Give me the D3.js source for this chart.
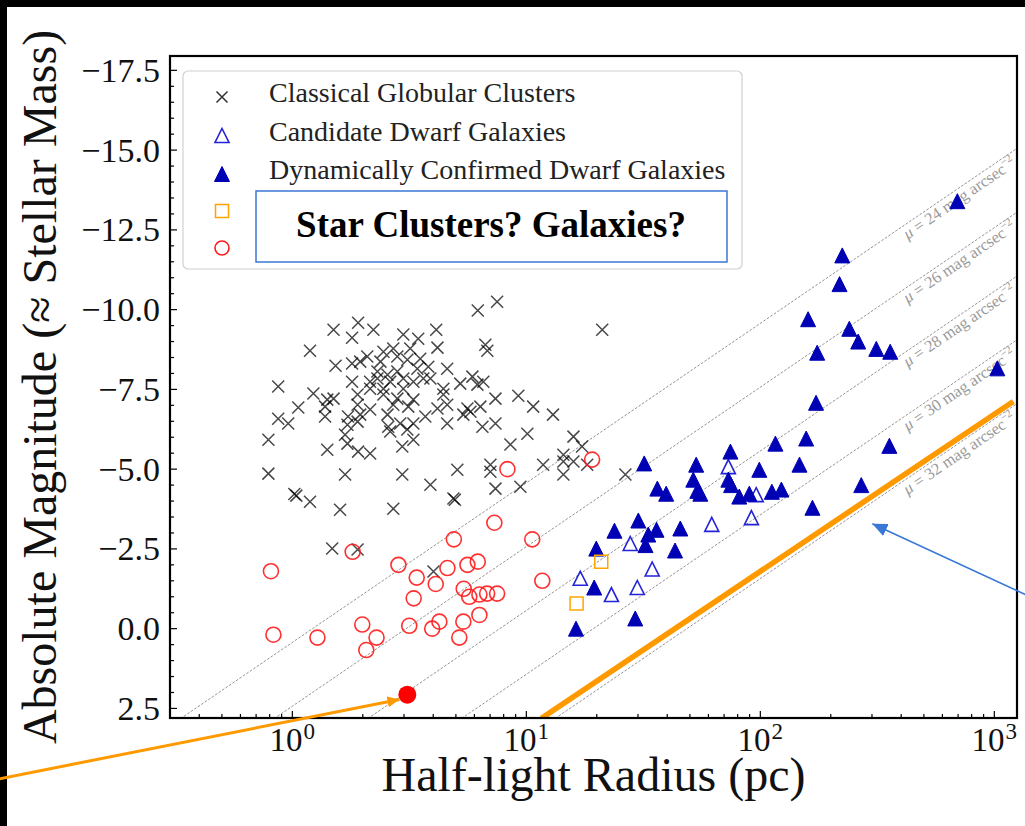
<!DOCTYPE html>
<html>
<head>
<meta charset="utf-8">
<script src="https://cdn.jsdelivr.net/npm/d3@7"></script>
<style>
  body { margin: 0; background: #fff; }
  svg text { font-family: "Liberation Serif", "Times New Roman", serif; }
</style>
</head>
<body>
<svg id="chart" width="1025" height="826"></svg>
<script>
// ---- data: [half-light radius (pc), absolute magnitude] ----
const globularClusters = [
  [7.5,-10.25],[6.2,-9.97],[21.1,-9.37],[1.50,-9.37],[1.91,-9.59],[1.80,-9.12],[2.22,-9.37],[2.98,-9.22],[3.45,-9.09],[4.12,-9.37],
  [1.19,-8.71],[6.68,-8.90],[6.81,-8.71],[4.17,-8.81],[3.52,-8.46],[1.53,-8.24],[1.80,-8.31],[1.95,-8.37],[2.38,-8.37],[2.45,-8.68],
  [2.81,-8.53],[3.10,-8.43],[3.81,-8.21],[4.59,-8.15],[0.87,-7.59],[1.23,-7.37],[1.80,-7.74],[2.15,-7.74],[2.31,-7.84],[2.45,-7.52],
  [2.62,-7.74],[2.98,-7.84],[3.29,-7.74],[3.89,-7.84],[4.42,-7.52],[5.22,-7.68],[5.88,-7.90],[6.18,-7.65],[6.55,-7.74],[1.41,-7.18],
  [1.50,-7.21],[1.90,-7.34],[2.45,-7.34],[2.81,-7.21],[3.29,-7.18],[4.42,-7.34],[7.38,-7.21],[9.24,-7.30],[1.06,-6.93],[1.38,-6.96],
  [1.90,-7.02],[2.15,-6.87],[2.70,-7.02],[3.13,-6.96],[4.17,-6.90],[4.59,-7.02],[5.60,-6.90],[5.77,-6.80],[6.36,-6.96],[10.7,-6.96],
  [0.87,-6.58],[0.96,-6.43],[1.38,-6.65],[1.73,-6.65],[1.95,-6.71],[2.55,-6.71],[3.70,-6.65],[5.38,-6.71],[13.0,-6.71],[1.72,-6.39],
  [1.90,-6.49],[2.57,-6.33],[2.89,-6.43],[3.29,-6.43],[4.59,-6.43],[6.49,-6.33],[7.38,-6.43],[0.79,-5.92],[1.68,-6.08],[2.62,-6.18],
  [3.10,-6.24],[10.1,-6.11],[15.9,-6.02],[1.41,-5.61],[1.72,-5.80],[1.91,-5.55],[2.15,-5.49],[2.95,-5.71],[3.29,-5.92],[8.55,-5.77],
  [14.4,-5.45],[17.3,-5.71],[0.79,-4.86],[1.68,-4.83],[2.95,-4.83],[5.07,-4.98],[7.02,-4.92],[11.8,-5.14],[14.4,-5.24],[26.5,-4.83],
  [14.4,-4.83],[7.02,-5.14],[2.31,-8.06],[2.55,-7.96],[2.81,-8.06],[2.15,-7.52],[2.98,-7.52],[3.42,-8.15],[3.63,-7.84],[2.70,-8.78],
  [3.19,-8.78],[2.09,-8.53],[15.9,-5.24],[18.2,-5.14],[1.04,-4.17],[1.02,-4.22],[1.19,-3.98],[1.60,-3.73],[2.70,-3.76],[3.89,-4.51],
  [4.88,-4.08],[4.95,-4.04],[7.38,-4.39],[9.43,-4.45],[1.48,-2.51],[1.90,-2.48],[4.01,-1.79]
];
const candidateDwarfs = [
  [73,-5.08],[96,-4.2],[91.6,-3.48],[62,-3.27],[27.8,-2.67],[34.5,-1.87],[17.0,-1.58],[29.8,-1.29],[23.1,-1.07]
];
const confirmedDwarfs = [
  [31.9,-5.18],[53.2,-5.14],[74.5,-5.55],[116,-5.8],[157,-5.96],[99,-4.98],[147,-5.14],[36.3,-4.39],[39.6,-4.23],[51.7,-4.67],
  [53.8,-4.32],[55.4,-4.23],[73,-4.67],[75,-4.5],[81.3,-4.14],[89.7,-4.23],[112,-4.29],[123,-4.36],[167,-3.79],[30.1,-3.39],
  [23.8,-3.07],[33.2,-2.95],[36.0,-3.1],[45.5,-3.14],[32.3,-2.62],[43.2,-2.45],[19.9,-2.51],[19.5,-1.29],[29.2,-0.32],[16.3,0.0],
  [224,-11.7],[218,-10.8],[160,-9.7],[240,-9.4],[262,-9.0],[175,-8.65],[313,-8.77],[359,-8.68],[1030,-8.16],[173,-7.08],
  [356,-5.73],[270,-4.5],[695,-13.4]
];
const ambiguousSquares = [[20.9,-2.1],[16.4,-0.79]];
const ambiguousCircles = [
  [8.3,-5.0],[19.1,-5.3],[7.3,-3.32],[4.9,-2.8],[10.6,-2.8],[1.81,-2.41],[0.81,-1.8],[2.84,-2.0],[3.4,-1.6],[4.6,-1.9],
  [5.6,-2.0],[6.2,-2.1],[4.1,-1.4],[3.3,-0.95],[5.4,-1.25],[5.7,-1.0],[6.3,-1.07],[6.8,-1.1],[7.5,-1.1],[11.7,-1.5],
  [0.83,0.19],[1.28,0.28],[1.99,-0.13],[2.29,0.28],[2.07,0.67],[3.16,-0.09],[3.96,0.0],[4.25,-0.22],[5.38,-0.22],[6.3,-0.43],
  [5.17,0.28]
];
const highlightedObject = [3.1, 2.07];

// surface-brightness guide lines (mag arcsec^-2)
const muLevels = [24, 26, 28, 30, 32];
const MU_OFFSET = 23.57;          // 21.57 + 2.5 log10(2π)
const muLabelRadius = 395;        // where the guide labels start (pc)

// annotations (data coordinates)
const limitLine = [[11.6, 2.81], [1205, -7.12]];
const arrowToObject = [[0.0538, 4.73], [2.87, 2.22]];
const arrowToLimit = [[1356, -1.07], [301, -3.29]];

// axes
const xMajorTicks = [1, 10, 100, 1000];
const xTickExponents = ["0", "1", "2", "3"];
const yMajorTicks = [2.5, 0, -2.5, -5, -7.5, -10, -12.5, -15, -17.5];
const xLabel = "Half-light Radius (pc)";
const yLabel = "Absolute Magnitude (≈ Stellar Mass)";
const legendLabels = ["Classical Globular Clusters", "Candidate Dwarf Galaxies",
                      "Dynamically Confirmed Dwarf Galaxies", "", ""];
const calloutText = "Star Clusters? Galaxies?";

// ---- layout ----
const plot = { left: 170, right: 1017, top: 56, bottom: 718 };
const svg = d3.select("#chart");
const x = d3.scaleLog().domain([0.3, 1250]).range([plot.left, plot.right]);
const y = d3.scaleLinear().domain([2.8, -17.95]).range([plot.bottom, plot.top]);

const colors = {
  gc: "#000", cand: "#2323d8", conf: "#0000b4", square: "#ffa500",
  circle: "#ff1a1a", guide: "#949494", orange: "#ff9900", callout: "#3a78d6"
};

// black edge strips
svg.append("rect").attr("x", 0).attr("y", 0).attr("width", 1025).attr("height", 7).attr("fill", "#000");
svg.append("rect").attr("x", 0).attr("y", 0).attr("width", 7).attr("height", 826).attr("fill", "#000");

const defs = svg.append("defs");
defs.append("clipPath").attr("id", "plotClip").append("rect")
  .attr("x", plot.left).attr("y", plot.top)
  .attr("width", plot.right - plot.left).attr("height", plot.bottom - plot.top);

function arrowMarker(id, color, len, wid) {
  defs.append("marker").attr("id", id)
    .attr("viewBox", `0 0 ${len} ${wid}`).attr("refX", len).attr("refY", wid / 2)
    .attr("markerWidth", len).attr("markerHeight", wid)
    .attr("markerUnits", "userSpaceOnUse").attr("orient", "auto")
    .append("path").attr("d", `M0,0L${len},${wid / 2}L0,${wid}Z`).attr("fill", color);
}
arrowMarker("headOrange", colors.orange, 12, 11);
arrowMarker("headBlue", colors.callout, 15, 13);

const inner = svg.append("g").attr("clip-path", "url(#plotClip)");

// ---- surface-brightness guide lines ----
const muM = (mu, r) => mu - MU_OFFSET - 5 * Math.log10(r);
const guideLine = d3.line().x(d => x(d[0])).y(d => y(d[1]));
const [r0, r1] = x.domain();
inner.selectAll(".guide").data(muLevels).join("path")
  .attr("class", "guide")
  .attr("d", mu => guideLine([[r0, muM(mu, r0)], [r1, muM(mu, r1)]]))
  .attr("fill", "none").attr("stroke", colors.guide)
  .attr("stroke-width", 1).attr("stroke-dasharray", "2.6,1.6");

const slopeAngle = Math.atan2(y(muM(24, 100)) - y(muM(24, 10)), x(100) - x(10)) * 180 / Math.PI;
const guideLabels = inner.selectAll(".guideLabel").data(muLevels).join("text")
  .attr("class", "guideLabel")
  .attr("transform", mu => `translate(${x(muLabelRadius)},${y(muM(mu, muLabelRadius))}) rotate(${slopeAngle})`)
  .attr("dy", 14)
  .attr("font-size", 16.5).attr("fill", "#9a9a9a");
guideLabels.append("tspan").attr("font-style", "italic").text("μ");
guideLabels.append("tspan").text(mu => ` = ${mu} mag arcsec`);
guideLabels.append("tspan").attr("font-size", 11).attr("dy", -7).text("−2");

// ---- markers ----
const crossPath = s => `M${-s},${-s}L${s},${s}M${-s},${s}L${s},${-s}`;
const triPath = s => `M0,${-s}L${s},${s}L${-s},${s}Z`;
const sqPath = s => `M${-s},${-s}H${s}V${s}H${-s}Z`;
const pos = d => `translate(${x(d[0])},${y(d[1])})`;

inner.selectAll(".gc").data(globularClusters).join("path")
  .attr("class", "gc").attr("transform", pos).attr("d", crossPath(6))
  .attr("stroke", colors.gc).attr("stroke-width", 1.5).attr("stroke-opacity", 0.72).attr("fill", "none");

inner.selectAll(".cand").data(candidateDwarfs).join("path")
  .attr("class", "cand").attr("transform", pos).attr("d", triPath(7))
  .attr("stroke", colors.cand).attr("stroke-width", 1.6).attr("fill", "none");

inner.selectAll(".conf").data(confirmedDwarfs).join("path")
  .attr("class", "conf").attr("transform", pos).attr("d", triPath(7.5))
  .attr("stroke", colors.conf).attr("stroke-width", 1).attr("fill", colors.conf);

inner.selectAll(".sq").data(ambiguousSquares).join("path")
  .attr("class", "sq").attr("transform", pos).attr("d", sqPath(6.5))
  .attr("stroke", colors.square).attr("stroke-width", 1.5).attr("fill", "none");

inner.selectAll(".circ").data(ambiguousCircles).join("circle")
  .attr("class", "circ").attr("cx", d => x(d[0])).attr("cy", d => y(d[1])).attr("r", 7.5)
  .attr("stroke", colors.circle).attr("stroke-width", 1.6).attr("fill", "none").attr("stroke-opacity", 0.9);

inner.append("circle").attr("cx", x(highlightedObject[0])).attr("cy", y(highlightedObject[1]))
  .attr("r", 9).attr("fill", "#ff0000");

// thick limit line
inner.append("path").attr("d", guideLine(limitLine))
  .attr("stroke", colors.orange).attr("stroke-width", 5.5).attr("fill", "none");

// ---- frame and ticks ----
svg.append("rect").attr("x", plot.left).attr("y", plot.top)
  .attr("width", plot.right - plot.left).attr("height", plot.bottom - plot.top)
  .attr("fill", "none").attr("stroke", "#000").attr("stroke-width", 2.2);

const ticks = svg.append("g").attr("stroke", "#000").attr("stroke-width", 1.2);
yMajorTicks.forEach(v => {
  ticks.append("line").attr("x1", plot.left).attr("x2", plot.left + 7).attr("y1", y(v)).attr("y2", y(v));
});
d3.range(yMajorTicks.length * 5).map(i => 2.5 - i * 0.5).forEach(v => {
  if (v % 2.5 !== 0 && v > -17.95) ticks.append("line").attr("x1", plot.left).attr("x2", plot.left + 4).attr("y1", y(v)).attr("y2", y(v));
});
xMajorTicks.forEach(v => {
  ticks.append("line").attr("x1", x(v)).attr("x2", x(v)).attr("y1", plot.bottom).attr("y2", plot.bottom - 7);
});
[0.1, 1, 10, 100].forEach(dec => {
  d3.range(2, 10).forEach(k => {
    const v = dec * k;
    if (v >= 0.3 && v <= 1250) ticks.append("line").attr("x1", x(v)).attr("x2", x(v)).attr("y1", plot.bottom).attr("y2", plot.bottom - 4);
  });
});

const fmt = d3.format(".1f");
svg.append("g").selectAll("text").data(yMajorTicks).join("text")
  .attr("x", plot.left - 10).attr("y", d => y(d)).attr("dy", "0.34em")
  .attr("text-anchor", "end").attr("font-size", 34).attr("fill", "#111")
  .text(d => fmt(d));

const xt = svg.append("g").selectAll("text").data(xMajorTicks).join("text")
  .attr("x", d => x(d)).attr("y", 751).attr("text-anchor", "middle")
  .attr("font-size", 33).attr("fill", "#111");
xt.append("tspan").text("10");
xt.append("tspan").attr("font-size", 23).attr("dx", 1).attr("dy", -12).text((d, i) => xTickExponents[i]);

svg.append("text").attr("x", (plot.left + plot.right) / 2).attr("y", 791)
  .attr("text-anchor", "middle").attr("font-size", 48).attr("fill", "#111").text(xLabel);
svg.append("text").attr("transform", `translate(56,${(plot.top + plot.bottom) / 2}) rotate(-90)`)
  .attr("text-anchor", "middle").attr("font-size", 48).attr("fill", "#111").text(yLabel);

// ---- legend ----
const lg = svg.append("g");
lg.append("rect").attr("x", 183).attr("y", 71).attr("width", 559).attr("height", 198).attr("rx", 5)
  .attr("fill", "#fff").attr("fill-opacity", 0.85).attr("stroke", "#d0d0d0").attr("stroke-width", 1.2);
const rowY = [97, 135.5, 174, 211, 248];
const mx = 222;
lg.append("path").attr("transform", `translate(${mx},${rowY[0]})`).attr("d", crossPath(5.5))
  .attr("stroke", colors.gc).attr("stroke-width", 1.5).attr("stroke-opacity", 0.8);
lg.append("path").attr("transform", `translate(${mx},${rowY[1]})`).attr("d", triPath(7))
  .attr("stroke", colors.cand).attr("stroke-width", 1.6).attr("fill", "none");
lg.append("path").attr("transform", `translate(${mx},${rowY[2]})`).attr("d", triPath(7.5))
  .attr("stroke", colors.conf).attr("fill", colors.conf);
lg.append("path").attr("transform", `translate(${mx},${rowY[3]})`).attr("d", sqPath(6.5))
  .attr("stroke", colors.square).attr("stroke-width", 1.5).attr("fill", "none");
lg.append("circle").attr("cx", mx).attr("cy", rowY[4]).attr("r", 7)
  .attr("stroke", colors.circle).attr("stroke-width", 1.6).attr("fill", "none");
lg.selectAll(".lt").data(legendLabels).join("text").attr("class", "lt")
  .attr("x", 269).attr("y", (d, i) => rowY[i] + 5)
  .attr("font-size", 28).attr("fill", "#222").text(d => d);

// callout box over the last two legend rows
lg.append("rect").attr("x", 256).attr("y", 191).attr("width", 471).attr("height", 71)
  .attr("fill", "#fff").attr("stroke", colors.callout).attr("stroke-width", 1.5);
lg.append("text").attr("x", 491).attr("y", 237).attr("text-anchor", "middle")
  .attr("font-size", 37).attr("font-weight", "bold").attr("fill", "#000").text(calloutText);

// ---- arrows ----
svg.append("path").attr("d", guideLine(arrowToObject))
  .attr("stroke", colors.orange).attr("stroke-width", 3).attr("fill", "none")
  .attr("marker-end", "url(#headOrange)");
svg.append("path").attr("d", guideLine(arrowToLimit))
  .attr("stroke", colors.callout).attr("stroke-width", 1.6).attr("fill", "none")
  .attr("marker-end", "url(#headBlue)");
</script>
</body>
</html>
